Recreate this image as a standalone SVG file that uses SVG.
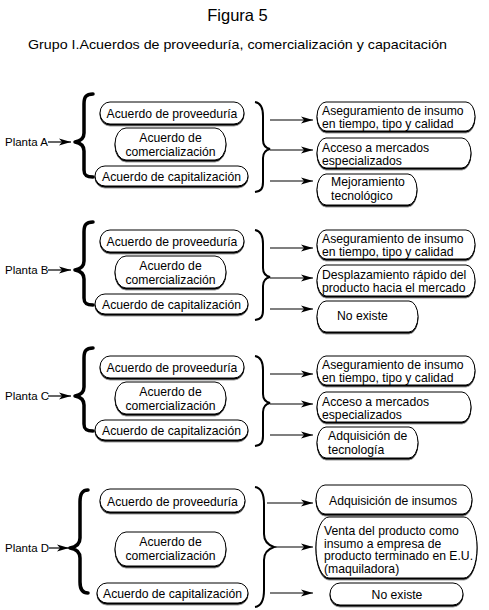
<svg xmlns="http://www.w3.org/2000/svg" width="489" height="610" viewBox="0 0 489 610">
<defs>
<filter id="sh" x="-5%" y="-10%" width="110%" height="130%"><feDropShadow dx="0" dy="1.4" stdDeviation="0" flood-color="#000"/></filter>
<marker id="ah" markerUnits="userSpaceOnUse" markerWidth="13" markerHeight="8" refX="12" refY="4" orient="auto"><path d="M0,0.5 L12,4 L0,7.5 L3,4 z" fill="#000"/></marker>
</defs>
<style>
text{font-family:"Liberation Sans",Arial,sans-serif;font-size:12.2px;fill:#000}
.c{text-anchor:middle}
.b{fill:#fff;stroke:#000;stroke-width:1;filter:url(#sh)}
.lb{fill:none;stroke:#000;stroke-width:3.5;stroke-linecap:round;stroke-linejoin:round}
.rb{fill:none;stroke:#000;stroke-width:2}
.ar{stroke:#000;stroke-width:1.2;fill:none;marker-end:url(#ah)}
.pl{font-size:11.5px}
</style>
<rect width="489" height="610" fill="#fff"/>
<text x="237.5" y="21" class="c" style="font-size:16.5px">Figura 5</text>
<text x="28" y="49" style="font-size:13px" textLength="419" lengthAdjust="spacingAndGlyphs">Grupo I.Acuerdos de proveeduría, comercialización y capacitación</text>

<g id="connectors">
  <g id="conn-a">
    <path class="ar" d="M48,142 L71,142"/>
    <path class="lb" d="M93,94 C86,94 84,97 84,104 L84,133 C84,138 81,141 75,142 C81,143 84,146 84,151 L84,170 C84,175 86,177 93,177"/>
    <path class="rb" d="M255,102 C261,103 263,108 263,116 L263,140 C263,145 266,148 270,149 C266,150 263,153 263,158 L263,182 C263,189 261,191 255,192"/>
    <path class="ar" d="M270,120 L313,120"/>
    <path class="ar" d="M270,150 L313,150"/>
    <path class="ar" d="M270,181 L313,181"/>
  </g>
  <g id="conn-b" transform="translate(0,128)">
    <path class="ar" d="M48,142 L71,142"/>
    <path class="lb" d="M93,94 C86,94 84,97 84,104 L84,133 C84,138 81,141 75,142 C81,143 84,146 84,151 L84,170 C84,175 86,177 93,177"/>
    <path class="rb" d="M255,102 C261,103 263,108 263,116 L263,140 C263,145 266,148 270,149 C266,150 263,153 263,158 L263,182 C263,189 261,191 255,192"/>
    <path class="ar" d="M270,120 L313,120"/>
    <path class="ar" d="M270,150 L313,150"/>
    <path class="ar" d="M270,181 L313,181"/>
  </g>
  <g id="conn-c" transform="translate(0,254)">
    <path class="ar" d="M48,142 L71,142"/>
    <path class="lb" d="M93,94 C86,94 84,97 84,104 L84,133 C84,138 81,141 75,142 C81,143 84,146 84,151 L84,170 C84,175 86,177 93,177"/>
    <path class="rb" d="M255,102 C261,103 263,108 263,116 L263,140 C263,145 266,148 270,149 C266,150 263,153 263,158 L263,182 C263,189 261,191 255,192"/>
    <path class="ar" d="M270,120 L313,120"/>
    <path class="ar" d="M270,150 L313,150"/>
    <path class="ar" d="M270,181 L313,181"/>
  </g>
  <g id="conn-d">
    <path class="ar" d="M49,548 L69,548"/>
    <path class="lb" d="M88,490 C82,490 80,494 80,502 L80,538 C80,544 76,547 70,548 C76,549 80,552 80,558 L80,582 C80,589 82,593 88,593"/>
    <path class="rb" d="M255,487 C262,488 264,494 264,504 L264,534 C264,541 268,545 274,547 C268,549 264,553 264,560 L264,590 C264,600 262,606 255,607"/>
    <path class="ar" d="M267,503 L313,503"/>
    <path class="ar" d="M275,547 L313,547"/>
    <path class="ar" d="M270,593 L313,593"/>
  </g>
</g>

<g id="seccion-a">
  <g id="planta-a"><text x="5" y="146" class="pl">Planta A</text></g>
  <g id="a-prov"><rect class="b" x="100" y="102" width="144" height="22" rx="10" ry="11"/><text x="172" y="117.5" class="c">Acuerdo de proveeduría</text></g>
  <g id="a-com"><rect class="b" x="115" y="128" width="111" height="32" rx="11" ry="16"/><text x="170.5" y="142" class="c">Acuerdo de</text><text x="170.5" y="155.5" class="c">comercialización</text></g>
  <g id="a-cap"><rect class="b" x="95" y="166" width="153" height="20" rx="10" ry="10"/><text x="171.5" y="180.5" class="c">Acuerdo de capitalización</text></g>
  <g id="a-r1"><rect class="b" x="317" y="102" width="158" height="29" rx="9" ry="14.5"/><text x="322" y="114.5">Aseguramiento de insumo</text><text x="322" y="127.5">en tiempo, tipo y calidad</text></g>
  <g id="a-r2"><rect class="b" x="317" y="138" width="154" height="30" rx="9" ry="15"/><text x="322" y="151.5">Acceso a mercados</text><text x="322" y="164.5">especializados</text></g>
  <g id="a-r3"><rect class="b" x="317" y="174" width="100" height="31" rx="9" ry="15.5"/><text x="331" y="186">Mejoramiento</text><text x="331" y="199.5">tecnológico</text></g>
</g>

<g id="seccion-b" transform="translate(0,128)">
  <g id="planta-b"><text x="5" y="146" class="pl">Planta B</text></g>
  <g id="b-prov"><rect class="b" x="100" y="102" width="144" height="22" rx="10" ry="11"/><text x="172" y="117.5" class="c">Acuerdo de proveeduría</text></g>
  <g id="b-com"><rect class="b" x="115" y="128" width="111" height="32" rx="11" ry="16"/><text x="170.5" y="142" class="c">Acuerdo de</text><text x="170.5" y="155.5" class="c">comercialización</text></g>
  <g id="b-cap"><rect class="b" x="95" y="166" width="153" height="20" rx="10" ry="10"/><text x="171.5" y="180.5" class="c">Acuerdo de capitalización</text></g>
  <g id="b-r1"><rect class="b" x="317" y="102" width="158" height="29" rx="9" ry="14.5"/><text x="322" y="114.5">Aseguramiento de insumo</text><text x="322" y="127.5">en tiempo, tipo y calidad</text></g>
  <g id="b-r2"><rect class="b" x="317" y="137" width="158" height="31" rx="9" ry="15.5"/><text x="322" y="150.5">Desplazamiento rápido del</text><text x="322" y="163.5">producto hacia el mercado</text></g>
  <g id="b-r3"><rect class="b" x="317" y="173" width="101" height="31" rx="9" ry="15.5"/><text x="337" y="192">No existe</text></g>
</g>

<g id="seccion-c" transform="translate(0,254)">
  <g id="planta-c"><text x="5" y="146" class="pl">Planta C</text></g>
  <g id="c-prov"><rect class="b" x="100" y="102" width="144" height="22" rx="10" ry="11"/><text x="172" y="117.5" class="c">Acuerdo de proveeduría</text></g>
  <g id="c-com"><rect class="b" x="115" y="128" width="111" height="32" rx="11" ry="16"/><text x="170.5" y="142" class="c">Acuerdo de</text><text x="170.5" y="155.5" class="c">comercialización</text></g>
  <g id="c-cap"><rect class="b" x="95" y="166" width="153" height="20" rx="10" ry="10"/><text x="171.5" y="180.5" class="c">Acuerdo de capitalización</text></g>
  <g id="c-r1"><rect class="b" x="317" y="102" width="158" height="29" rx="9" ry="14.5"/><text x="322" y="114.5">Aseguramiento de insumo</text><text x="322" y="127.5">en tiempo, tipo y calidad</text></g>
  <g id="c-r2"><rect class="b" x="317" y="138" width="154" height="30" rx="9" ry="15"/><text x="322" y="151.5">Acceso a mercados</text><text x="322" y="164.5">especializados</text></g>
  <g id="c-r3"><rect class="b" x="317" y="173" width="101" height="31" rx="9" ry="15.5"/><text x="328" y="186">Adquisición de</text><text x="328" y="199.5">tecnología</text></g>
</g>

<g id="seccion-d">
  <g id="planta-d"><text x="5" y="552" class="pl">Planta D</text></g>
  <g id="d-prov"><rect class="b" x="100" y="489" width="145" height="23" rx="10" ry="11.5"/><text x="172.5" y="505.5" class="c">Acuerdo de proveeduría</text></g>
  <g id="d-com"><rect class="b" x="115" y="532" width="111" height="34" rx="11" ry="17"/><text x="170.5" y="546" class="c">Acuerdo de</text><text x="170.5" y="560" class="c">comercialización</text></g>
  <g id="d-cap"><rect class="b" x="97" y="583" width="151" height="20" rx="10" ry="10"/><text x="172.5" y="597.5" class="c">Acuerdo de capitalización</text></g>
  <g id="d-r1"><rect class="b" x="316" y="485" width="156" height="29" rx="9" ry="14.5"/><text x="329" y="504.5">Adquisición de insumos</text></g>
  <g id="d-r2"><rect class="b" x="316" y="517" width="161" height="61" rx="13" ry="30"/><text x="324" y="535">Venta del producto como</text><text x="324" y="547.5">insumo a empresa de</text><text x="324" y="560">producto terminado en E.U.</text><text x="324" y="572.5">(maquiladora)</text></g>
  <g id="d-r3"><rect class="b" x="330" y="583" width="133" height="22" rx="10" ry="11"/><text x="397" y="598.5" class="c">No existe</text></g>
</g>
</svg>
